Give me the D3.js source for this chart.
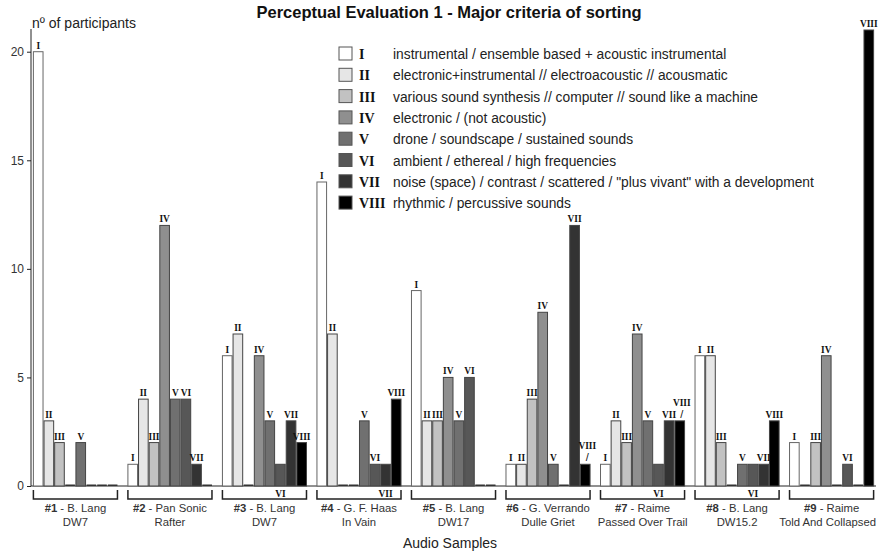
<!DOCTYPE html>
<html>
<head>
<meta charset="utf-8">
<script src="https://cdn.jsdelivr.net/npm/d3@7"></script>
<style>
  body { margin: 0; background: #fff; }
  svg { display: block; }
  .axis path, .axis line { stroke: #222; }
  .axis text { font: 12px "Liberation Sans", Arial, sans-serif; fill: #333; }
</style>
</head>
<body>
<svg id="chart"></svg>
<script>
var categories = ['I', 'II', 'III', 'IV', 'V', 'VI', 'VII', 'VIII']
var descriptions = [
  'instrumental / ensemble based + acoustic instrumental',
  'electronic+instrumental // electroacoustic // acousmatic',
  'various sound synthesis  // computer // sound like a machine',
  'electronic / (not acoustic)',
  'drone / soundscape / sustained sounds',
  'ambient / ethereal / high frequencies',
  'noise (space) / contrast / scattered / "plus vivant" with a development',
  'rhythmic / percussive sounds'
]
var fills = ['#ffffff', '#e6e6e6', '#c2c2c2', '#8f8f8f', '#707070', '#575757', '#333333', '#000000']

var sampleIds = ['#1', '#2', '#3', '#4', '#5', '#6', '#7', '#8', '#9']
var sampleArtists = ['B. Lang', 'Pan Sonic', 'B. Lang', 'G. F. Haas', 'B. Lang', 'G. Verrando', 'Raime', 'B. Lang', 'Raime']
var sampleTitles = ['DW7', 'Rafter', 'DW7', 'In Vain', 'DW17', 'Dulle Griet', 'Passed Over Trail', 'DW15.2', 'Told And Collapsed']

// participants per criterion (I..VIII) for each sample
var counts = [
  [20, 3, 2, 0, 2, 0, 0, 0],
  [1, 4, 2, 12, 4, 4, 1, 0],
  [6, 7, 0, 6, 3, 1, 3, 2],
  [14, 7, 0, 0, 3, 1, 1, 4],
  [9, 3, 3, 5, 3, 5, 0, 0],
  [1, 1, 4, 8, 1, 0, 12, 1],
  [1, 3, 2, 7, 3, 1, 3, 3],
  [6, 6, 2, 0, 1, 1, 1, 3],
  [2, 0, 2, 6, 0, 1, 0, 21]
]
var yTicks = [0, 5, 10, 15, 20]

// labels that sit under the axis, and labels lifted with a "/" pointer
var labelsBelow = [[2, 5], [3, 6], [6, 5], [7, 5]]
var labelsSlash = [[5, 7], [6, 7]]

var width = 878, height = 555
var margin = { left: 31, right: 2, top: 30, bottom: 68 }
var svg = d3.select('#chart').attr('width', width).attr('height', height)

var x0 = d3.scaleBand().domain(sampleIds)
  .range([margin.left, width - margin.right])
  .paddingInner(0.1).paddingOuter(0.02)
var x1 = d3.scaleBand().domain(categories).range([0, x0.bandwidth()])
var y = d3.scaleLinear().domain([0, 21]).range([height - margin.bottom - 1, margin.top])

var serif = '"Liberation Serif", "Times New Roman", serif'
var sans = '"Liberation Sans", Arial, sans-serif'

// Title and axis titles
svg.append('text')
  .attr('x', 449).attr('y', 18)
  .attr('text-anchor', 'middle')
  .style('font', 'bold 16.5px ' + sans).style('fill', '#111')
  .text('Perceptual Evaluation 1 - Major criteria of sorting')
svg.append('text')
  .attr('x', 32).attr('y', 28)
  .style('font', '14px ' + sans).style('fill', '#222')
  .text('nº of participants')
svg.append('text')
  .attr('x', 450).attr('y', 548)
  .attr('text-anchor', 'middle')
  .style('font', '14px ' + sans).style('fill', '#222')
  .text('Audio Samples')

// Axes
svg.append('g').attr('class', 'axis')
  .attr('transform', 'translate(' + margin.left + ',0)')
  .call(d3.axisLeft(y).tickValues(yTicks).tickSize(4).tickPadding(3))
  .call(function(g) { g.select('.domain').attr('d', 'M0,' + y(0) + 'V' + (margin.top - 1)) })

svg.append('line')
  .attr('x1', margin.left).attr('x2', width - margin.right)
  .attr('y1', y(0)).attr('y2', y(0))
  .attr('stroke', '#222')

// Bars
var groups = svg.selectAll('g.sample')
  .data(counts).enter().append('g')
  .attr('class', 'sample')
  .attr('transform', function(d, i) { return 'translate(' + x0(sampleIds[i]) + ',0)' })

groups.each(function(vals, si) {
  var g = d3.select(this)
  var gx = x0(sampleIds[si])
  g.selectAll('rect')
    .data(vals).enter().append('rect')
    .attr('x', function(d, ci) { return x1(categories[ci]) + 0.5 })
    .attr('width', x1.bandwidth() - 1)
    .attr('y', function(d) { return d === 0 ? y(0) - 1.5 : y(d) })
    .attr('height', function(d) { return d === 0 ? 1.5 : y(0) - y(d) })
    .attr('fill', function(d, ci) { return d === 0 ? '#333' : fills[ci] })
    .attr('stroke', function(d, ci) { return d === 0 ? 'none' : (ci === 0 ? '#666' : '#444') })
    .attr('stroke-width', 1)

  vals.forEach(function(v, ci) {
    if (v === 0) return
    var cx = x1(categories[ci]) + x1.bandwidth() / 2
    var below = labelsBelow.some(function(p) { return p[0] === si && p[1] === ci })
    var slash = labelsSlash.some(function(p) { return p[0] === si && p[1] === ci })
    var ty = below ? y(0) + 11 : y(v) - 3
    if (slash) {
      g.append('text').attr('x', cx + 2).attr('y', y(v) - 3)
        .attr('text-anchor', 'middle')
        .style('font', '11px ' + sans).style('fill', '#111')
        .text('/')
      ty = y(v) - 15
    }
    // serif numerals, squeezed horizontally so neighbours do not collide
    g.append('text')
      .attr('transform', 'translate(' + (cx + (slash ? 2 : 0)) + ',' + ty + ') scale(0.85,1)')
      .attr('text-anchor', 'middle')
      .style('font', 'bold 11px ' + serif).style('fill', '#111')
      .text(categories[ci])
  })

  // Bracket under the group
  var bw = x0.bandwidth()
  g.append('path')
    .attr('d', 'M0.5,' + (y(0) + 4) + 'V' + (y(0) + 13) + 'H' + (bw - 0.5) + 'V' + (y(0) + 4))
    .attr('fill', 'none').attr('stroke', '#222').attr('stroke-width', 1.5)

  var lbl = g.append('text')
    .attr('x', bw / 2).attr('y', y(0) + 26)
    .attr('text-anchor', 'middle')
    .style('font', '11.3px ' + sans).style('fill', '#333')
  lbl.append('tspan').style('font-weight', 'bold').text(sampleIds[si])
  lbl.append('tspan').text(' - ' + sampleArtists[si])
  var sub = g.append('text')
    .attr('x', bw / 2).attr('y', y(0) + 40)
    .attr('text-anchor', 'middle')
    .style('font', '11.3px ' + sans).style('fill', '#333')
    .text(sampleTitles[si])

  // keep the long last title inside the picture
  ;[lbl, sub].forEach(function(t) {
    var w = t.node().getComputedTextLength()
    var over = gx + bw / 2 + w / 2 - (width - 2)
    if (over > 0) t.attr('x', bw / 2 - over)
  })
})

// Legend
var legend = svg.append('g').attr('transform', 'translate(339,47)')
var rows = legend.selectAll('g.row')
  .data(categories).enter().append('g')
  .attr('class', 'row')
  .attr('transform', function(d, i) { return 'translate(0,' + (i * 21.3) + ')' })
rows.append('rect')
  .attr('width', 13).attr('height', 13)
  .attr('fill', function(d, i) { return fills[i] })
  .attr('stroke', '#555')
rows.append('text')
  .attr('x', 20).attr('y', 12)
  .style('font', 'bold 14px ' + serif).style('fill', '#111')
  .text(function(d) { return d })
rows.append('text')
  .attr('x', 54).attr('y', 12)
  .style('font', '13.8px ' + sans).style('fill', '#222')
  .text(function(d, i) { return descriptions[i] })
</script>
</body>
</html>
